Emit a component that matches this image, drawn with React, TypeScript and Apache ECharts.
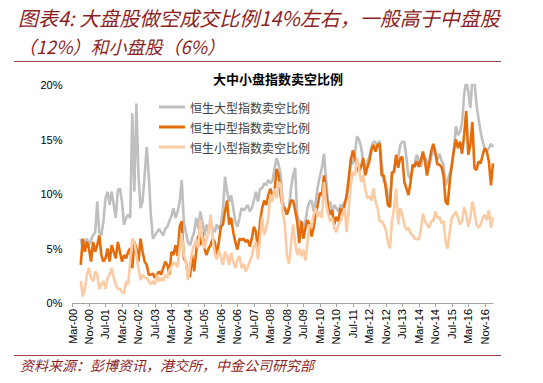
import React, { useEffect, useRef } from "react";
import * as echarts from "echarts";

const MONTH_NAMES = ["Jan", "Feb", "Mar", "Apr", "May", "Jun", "Jul", "Aug", "Sep", "Oct", "Nov", "Dec"];
const START_YEAR = 2000;
const START_MONTH = 2; // March
const MONTH_COUNT = 205; // Mar-00 .. Mar-17

const categories: string[] = [];
for (let k = 0; k < MONTH_COUNT; k++) {
  const m = (START_MONTH + k) % 12;
  const y = START_YEAR + Math.floor((START_MONTH + k) / 12);
  categories.push(`${MONTH_NAMES[m]}-${String(y % 100).padStart(2, "0")}`);
}

const yTicks = [0, 5, 10, 15, 20];

// 恒生大型指数卖空比例 (%)
const largeCap: (number | null)[] = [
  null, null, null, null, 5.9, 5.0, 5.6, 5.9, 5.3, 5.8,
  6.2, 6.5, 9.3, 6.5, 6.2, 7.5, 9.6, 10.2, 9.0, 10.2,
  9.0, 7.8, 10.4, 10.5, 9.3, 7.2, 7.8, 8.1, 7.8, 17.4,
  10.2, 18.3, 11.7, 8.7, 9.3, 11.7, 14.3, 11.7, 8.1, 5.9,
  6.2, 6.5, 6.8, 6.5, 6.2, 6.8, 7.0, 7.5, 8.0, 8.7,
  7.8, 8.4, 9.3, 11.3, 7.5, 6.5, 5.6, 5.3, 5.9, 6.5,
  7.8, 6.8, 8.4, 7.5, 6.2, 7.2, 6.5, 7.5, 6.8, 6.5,
  7.2, 6.8, 7.2, 8.7, 11.6, 10.2, 9.3, 9.9, 8.7, 7.5,
  7.0, 7.8, 8.7, 8.5, 8.7, 9.0, 8.4, 8.7, 9.4, 10.2,
  9.3, 10.5, 10.5, 11.0, 10.8, 11.3, 11.0, 11.2, 12.3, 13.3,
  12.7, 11.7, 9.3, 8.7, 8.1, 8.7, 10.5, 11.7, 12.4, 8.1,
  7.5, 7.5, 7.0, 7.5, 8.7, 9.3, 9.4, 8.4, 9.3, 10.7,
  11.6, 12.4, 13.7, 11.4, 9.0, 9.3, 8.2, 9.0, 8.7, 8.4,
  9.0, 8.8, 9.3, 9.6, 10.8, 13.3, 12.7, 13.6, 15.3, 15.0,
  14.3, 13.1, 12.0, 13.0, 13.4, 14.3, 14.8, 14.8, 14.3, 14.9,
  13.0, 11.1, 11.1, 9.9, 9.3, 11.7, 12.2, 13.4, 13.4, 14.5,
  14.8, 14.8, 13.3, 11.7, 11.4, 12.3, 12.8, 13.6, 13.1, 12.5,
  13.3, 13.4, 13.0, 12.4, 13.4, 14.0, 13.6, 13.1, 13.7, 13.1,
  12.7, 10.8, 11.3, 11.9, 12.4, 13.9, 16.2, 15.4, 15.7, 16.6,
  19.1, 20.5, 19.4, 17.9, 20.6, 20.3, 18.2, 16.9, 15.7, 14.8,
  14.2, 13.9, 14.2, 14.6, 14.3,
];

// 恒生中型指数卖空比例 (%)
const midCap: (number | null)[] = [
  null, null, null, null, 3.5, 5.9, 4.7, 5.6, 5.0, 3.8,
  5.6, 4.7, 5.3, 6.2, 4.4, 3.8, 4.1, 5.0, 3.8, 5.3,
  4.7, 4.1, 5.6, 4.7, 3.8, 4.4, 4.1, 4.7, 5.0, 3.2,
  5.6, 5.0, 3.8, 5.9, 4.7, 3.8, 3.5, 2.6, 2.6, 2.7,
  2.3, 2.6, 2.9, 2.6, 3.2, 3.8, 3.5, 2.6, 4.7, 4.4,
  5.3, 4.3, 7.0, 7.5, 4.1, 3.8, 2.6, 2.4, 4.4, 2.9,
  4.7, 6.2, 5.3, 6.5, 5.0, 4.4, 5.0, 5.3, 5.9, 5.6,
  4.4, 5.6, 7.0, 7.2, 8.4, 9.4, 7.2, 7.8, 6.5, 5.6,
  4.9, 5.9, 5.8, 5.9, 5.6, 5.8, 5.2, 5.9, 7.0, 6.5,
  4.8, 7.5, 8.7, 9.4, 9.0, 9.9, 10.5, 9.9, 10.2, 12.3,
  11.7, 9.8, 8.8, 8.7, 8.1, 8.7, 9.4, 9.4, 8.5, 7.5,
  5.5, 7.5, 5.9, 6.9, 7.6, 7.2, 6.1, 6.9, 8.2, 9.0,
  10.1, 9.9, 11.7, 10.2, 8.8, 8.1, 8.5, 7.2, 7.9, 7.5,
  8.7, 8.2, 9.0, 9.9, 11.4, 13.1, 14.0, 13.3, 12.7, 12.0,
  12.5, 13.3, 11.7, 12.4, 13.0, 14.0, 14.5, 13.9, 14.5, 14.6,
  11.7, 11.7, 10.5, 9.0, 8.8, 12.0, 12.0, 13.6, 12.4, 13.3,
  13.4, 11.1, 10.5, 9.9, 11.1, 12.7, 12.5, 13.0, 12.5, 13.1,
  13.9, 13.0, 11.7, 12.8, 13.9, 14.6, 13.9, 12.7, 12.7, 12.5,
  11.7, 9.3, 9.0, 11.1, 12.7, 14.0, 15.0, 14.2, 14.8, 13.7,
  15.4, 17.6, 13.6, 14.5, 16.6, 12.4, 12.2, 13.0, 12.8, 13.6,
  14.2, 13.9, 13.0, 10.8, 12.8,
];

// 恒生小型指数卖空比例 (%)
const smallCap: (number | null)[] = [
  null, null, null, null, 2.0, 0.6, 1.3, 2.6, 3.2, 2.3,
  2.0, 2.9, 2.6, 1.3, 1.7, 2.0, 1.3, 2.3, 2.6, 3.2,
  2.3, 1.7, 1.3, 1.3, 1.0, 0.9, 2.0, 1.7, 3.8, 5.9,
  5.6, 4.4, 3.2, 2.1, 2.6, 2.3, 2.3, 2.0, 1.7, 2.0,
  1.7, 2.6, 2.0, 2.3, 2.0, 2.6, 2.3, 3.0, 3.3, 3.7,
  3.6, 3.3, 5.0, 6.4, 4.4, 3.8, 2.1, 3.5, 4.7, 5.3,
  5.8, 5.0, 7.6, 6.0, 5.0, 5.8, 6.5, 8.1, 6.0, 4.5,
  4.0, 4.8, 4.2, 3.5, 4.7, 4.3, 3.5, 4.6, 3.8, 3.2,
  4.0, 4.3, 3.2, 3.6, 2.9, 3.3, 3.8, 4.3, 5.2, 5.6,
  4.0, 5.9, 7.9, 6.2, 6.9, 7.8, 9.9, 9.3, 10.5, 9.6,
  11.1, 10.8, 8.4, 7.2, 4.4, 3.6, 5.3, 7.2, 5.6, 4.4,
  5.0, 4.3, 4.9, 3.9, 5.6, 7.2, 7.0, 8.1, 8.7, 7.9,
  8.4, 7.8, 11.1, 9.1, 8.2, 7.5, 7.8, 6.9, 6.5, 7.2,
  7.5, 8.1, 8.7, 6.5, 8.7, 10.8, 12.0, 11.7, 13.3, 12.4,
  11.1, 11.7, 10.5, 9.6, 9.8, 9.4, 10.5, 9.3, 8.7, 7.5,
  7.5, 7.2, 6.7, 5.6, 5.0, 7.5, 8.7, 10.5, 7.2, 8.7,
  8.1, 7.2, 6.7, 6.9, 6.4, 6.2, 5.9, 5.9, 5.8, 6.7,
  8.2, 7.5, 7.2, 6.9, 7.5, 7.5, 8.4, 7.8, 7.9, 7.3,
  7.5, 5.6, 5.0, 6.5, 7.8, 8.1, 8.4, 7.8, 7.2, 7.5,
  8.8, 8.1, 7.0, 7.8, 9.3, 8.4, 7.2, 6.9, 7.2, 7.8,
  8.1, 7.6, 8.5, 6.9, 7.9,
];

const seriesNames = ["恒生大型指数卖空比例", "恒生中型指数卖空比例", "恒生小型指数卖空比例"];
const seriesColors = ["#BFBFBF", "#E46C0A", "#FBCBA3"];

const TITLE_RED = "#8E1F1F";
const CJK = "'Noto Sans CJK SC', sans-serif";
const LATIN = "'Liberation Sans', Arial, sans-serif";

export default function App() {
  const ref = useRef<HTMLDivElement | null>(null);

  useEffect(() => {
    if (!ref.current) return;
    const chart = echarts.init(ref.current, undefined, { renderer: "svg" });
    const datasets = [largeCap, midCap, smallCap];
    const option: any = {
      animation: false,
      backgroundColor: "#ffffff",
      title: [
        {
          text: "图表4: 大盘股做空成交比例14%左右，一般高于中盘股",
          left: 18,
          top: 7,
          padding: 0,
          textStyle: {
            fontSize: 20,
            fontStyle: "italic",
            fontWeight: "normal",
            color: TITLE_RED,
            fontFamily: CJK,
          },
        },
        {
          text: "（12%）和小盘股（6%）",
          left: 18,
          top: 36.5,
          padding: 0,
          textStyle: {
            fontSize: 18,
            fontStyle: "italic",
            fontWeight: "normal",
            color: TITLE_RED,
            fontFamily: CJK,
          },
        },
        {
          text: "大中小盘指数卖空比例",
          left: 208,
          top: 67,
          textStyle: {
            fontSize: 13,
            fontWeight: "bold",
            color: "#000000",
            fontFamily: CJK,
          },
        },
      ],
      graphic: [
        {
          type: "line",
          shape: { x1: 14, y1: 61.5, x2: 501, y2: 61.5 },
          style: { stroke: "#A04545", lineWidth: 1.2 },
        },
        {
          type: "line",
          shape: { x1: 14, y1: 355.5, x2: 501, y2: 355.5 },
          style: { stroke: "#A04545", lineWidth: 1.2 },
        },
        {
          type: "text",
          left: 20,
          top: 358,
          style: {
            text: "资料来源：彭博资讯，港交所，中金公司研究部",
            fontSize: 14,
            fontStyle: "italic",
            fill: TITLE_RED,
            fontFamily: CJK,
          },
        },
      ],
      legend: {
        orient: "vertical",
        left: 154,
        top: 95,
        itemWidth: 26,
        itemHeight: 3,
        itemGap: 6,
        icon: "rect",
        data: seriesNames,
        textStyle: { fontSize: 12, color: "#404040", fontFamily: CJK, lineHeight: 14 },
      },
      grid: { left: 72.5, right: 50, top: 85, bottom: 80, containLabel: false },
      xAxis: {
        type: "category",
        data: categories,
        boundaryGap: false,
        axisLine: { show: true, lineStyle: { color: "#A6A6A6", width: 1 } },
        axisTick: { show: true, interval: 7, length: 4, lineStyle: { color: "#A6A6A6" } },
        axisLabel: {
          interval: 7,
          rotate: 90,
          fontSize: 11,
          color: "#000000",
          margin: 6,
          fontFamily: LATIN,
        },
        splitLine: { show: false },
      },
      yAxis: {
        type: "value",
        min: yTicks[0],
        max: yTicks[yTicks.length - 1],
        interval: 5,
        axisLine: { show: false },
        axisTick: { show: false },
        splitLine: { show: false },
        axisLabel: {
          formatter: "{value}%",
          fontSize: 11,
          color: "#000000",
          margin: 10,
          fontFamily: LATIN,
        },
      },
      series: seriesNames.map((name, k) => ({
        name,
        type: "line",
        data: datasets[k],
        showSymbol: false,
        symbol: "none",
        connectNulls: false,
        lineStyle: { color: seriesColors[k], width: 2.6 },
        itemStyle: { color: seriesColors[k] },
        z: 2 + k,
      })),
    };
    chart.setOption(option);
    return () => chart.dispose();
  }, []);

  return (
    <div
      ref={ref}
      style={{ position: "fixed", left: 0, top: 0, width: 543, height: 383 }}
    />
  );
}
